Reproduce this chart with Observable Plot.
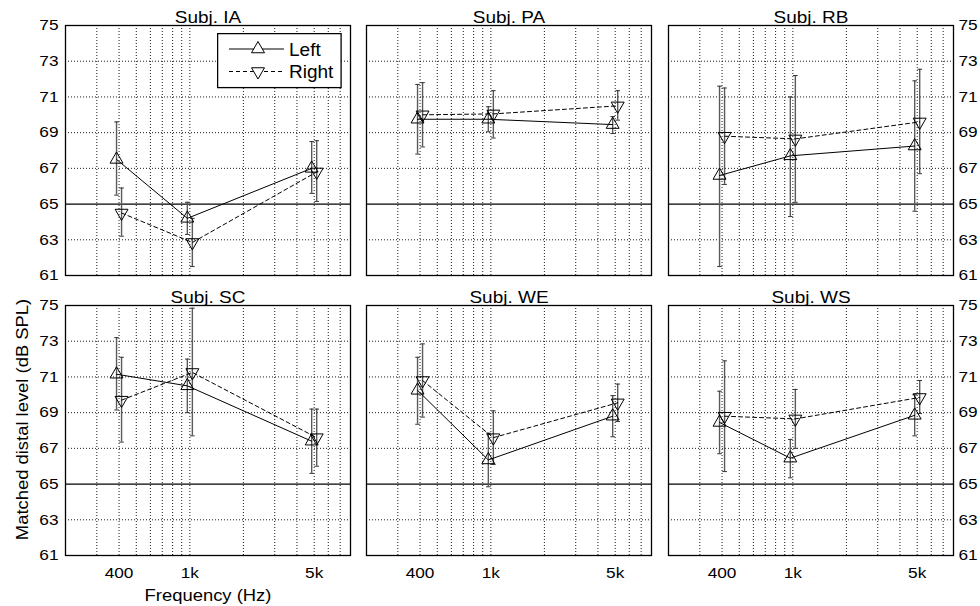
<!DOCTYPE html>
<html><head><meta charset="utf-8">
<script src="https://cdn.jsdelivr.net/npm/d3@7"></script>
<script src="https://cdn.jsdelivr.net/npm/@observablehq/plot@0.6"></script>
<style>
html,body{margin:0;padding:0;background:#fff;}
#chart{position:relative;width:980px;height:606px;overflow:hidden;background:#fff;font-family:"Liberation Sans",Arial,Helvetica,sans-serif;}
#chart > svg{position:absolute;}
</style></head><body><div id="chart"></div>
<script>
// ---- data ----
const subjects = ["IA", "PA", "RB", "SC", "WE", "WS"];
const freqs = [400, 1000, 5000];
const freqLabels = ["400", "1k", "5k"];
const yTicks = [61, 63, 65, 67, 69, 71, 73, 75];
const gridFreqs = [300, 400, 500, 600, 700, 800, 900, 1000, 2000, 3000, 4000, 5000, 6000, 7000];
const seriesNames = ["Left", "Right"];

// per subject: values at 400 Hz, 1 kHz, 5 kHz
const leftMean  = [[67.5, 64.2, 67.0], [69.75, 69.75, 69.45], [66.6, 67.7, 68.25], [71.15, 70.5, 67.4], [70.25, 66.35, 68.8], [68.45, 66.45, 68.85]];
const leftLow   = [[65.5, 63.3, 65.6], [67.8, 69.05, 68.95], [61.5, 64.3, 64.6], [69.15, 69.0, 65.6], [68.35, 64.85, 67.65], [66.7, 65.35, 67.7]];
const leftHigh  = [[69.6, 65.1, 68.5], [71.7, 70.45, 69.9], [71.6, 71.0, 71.9], [73.2, 72.0, 69.2], [72.1, 67.85, 69.95], [70.2, 67.5, 70.0]];
const rightMean = [[64.5, 62.85, 66.8], [70.0, 70.05, 70.5], [68.8, 68.65, 69.6], [69.7, 71.25, 67.6], [70.8, 67.6, 69.55], [68.8, 68.65, 69.85]];
const rightLow  = [[63.2, 61.5, 65.15], [68.2, 68.7, 69.7], [66.1, 65.1, 66.7], [67.35, 67.7, 66.0], [68.75, 66.1, 68.5], [65.7, 67.0, 68.95]];
const rightHigh = [[65.9, 64.2, 68.55], [71.8, 71.35, 71.35], [71.5, 72.2, 72.55], [72.1, 74.85, 69.2], [72.85, 69.1, 70.6], [71.9, 70.3, 70.8]];

// ---- layout ----
const colLeft = [65, 366, 668], rowTop = [25, 305];
const PW = 285, PH = 250;
const ML = 70, MR = 40, MT = 30, MB = 52;
const shift = {Left: 0.968, Right: 1.033}; // horizontal dodge of the two series (log axis)
const FONT = '"Liberation Sans", Arial, Helvetica, sans-serif';
const STRETCH = 1.15; // the reference text is drawn slightly wide

function rowsFor(i) {
  const out = [];
  freqs.forEach((f, j) => {
    out.push({side: "Left", freq: f, x: f * shift.Left, mean: leftMean[i][j], lo: leftLow[i][j], hi: leftHigh[i][j]});
    out.push({side: "Right", freq: f, x: f * shift.Right, mean: rightMean[i][j], lo: rightLow[i][j], hi: rightHigh[i][j]});
  });
  return out;
}

function stretchText(root, k) {
  root.querySelectorAll("text").forEach(t => {
    const w = t.getComputedTextLength();
    if (w > 0) {
      t.setAttribute("textLength", (w * k).toFixed(2));
      t.setAttribute("lengthAdjust", "spacingAndGlyphs");
    }
  });
}

const capSymbol = {draw(ctx) { ctx.moveTo(-2.3, 0); ctx.lineTo(2.3, 0); }};
const chart = document.getElementById("chart");

subjects.forEach((s, i) => {
  const col = i % 3, row = Math.floor(i / 3);
  const data = rowsFor(i);
  const L = data.filter(d => d.side === "Left");
  const R = data.filter(d => d.side === "Right");
  const marks = [
    Plot.gridX(gridFreqs, {stroke: "black", strokeOpacity: 1, strokeWidth: 0.9, strokeDasharray: "1,2"}),
    Plot.gridY([63, 67, 69, 71, 73], {stroke: "black", strokeOpacity: 1, strokeWidth: 0.9, strokeDasharray: "1,2"}),
    Plot.ruleY([65], {stroke: "black", strokeWidth: 1.2}),
    Plot.ruleX(data, {x: "x", y1: "lo", y2: "hi", stroke: "#5a5a5a", strokeWidth: 1.4}),
    Plot.dot(data, {x: "x", y: "lo", symbol: capSymbol, r: 3, fill: "none", stroke: "#333", strokeWidth: 1}),
    Plot.dot(data, {x: "x", y: "hi", symbol: capSymbol, r: 3, fill: "none", stroke: "#333", strokeWidth: 1}),
    Plot.line(L, {x: "x", y: "mean", stroke: "black", strokeWidth: 1}),
    Plot.line(R, {x: "x", y: "mean", stroke: "black", strokeWidth: 1, strokeDasharray: "4,3"}),
    Plot.dot(L, {x: "x", y: "mean", symbol: "triangle", r: 4.8, fill: "none", stroke: "black", strokeWidth: 1}),
    Plot.dot(R, {x: "x", y: "mean", symbol: "triangle", rotate: 180, r: 4.8, fill: "none", stroke: "black", strokeWidth: 1}),
    Plot.frame({stroke: "black", strokeWidth: 1.3}),
    Plot.text(["Subj. " + s], {text: d => d, frameAnchor: "top", lineAnchor: "middle", textAnchor: "middle", dy: -7.5, fontSize: 16.5})
  ];
  if (i === 3) {
    marks.push(Plot.text(["Matched distal level (dB SPL)"], {text: d => d, frameAnchor: "left", textAnchor: "middle", lineAnchor: "middle", dx: -43, dy: -11, rotate: -90, fontSize: 16}));
    marks.push(Plot.text(["Frequency (Hz)"], {text: d => d, frameAnchor: "bottom", textAnchor: "middle", lineAnchor: "middle", dy: 40, fontSize: 16}));
  }
  const svg = Plot.plot({
    width: PW + ML + MR,
    height: PH + MT + MB,
    marginLeft: ML, marginRight: MR, marginTop: MT, marginBottom: MB,
    style: {background: "transparent", overflow: "visible", fontSize: "15px", fontFamily: FONT, color: "black"},
    x: {type: "log", domain: [200, 8000], axis: row === 1 ? "bottom" : null, ticks: freqs,
        tickFormat: d => freqLabels[freqs.indexOf(d)], tickSize: 0, tickPadding: 12, label: null},
    y: {domain: [61, 75], axis: col === 0 ? "left" : col === 2 ? "right" : null, ticks: yTicks,
        tickSize: 0, tickPadding: col === 0 ? 7 : 5, label: null},
    marks
  });
  svg.style.left = (colLeft[col] - ML) + "px";
  svg.style.top = (rowTop[row] - MT) + "px";
  chart.appendChild(svg);
  stretchText(svg, STRETCH);
});

// legend (inside panel "Subj. IA")
const ns = "http://www.w3.org/2000/svg";
const leg = document.createElementNS(ns, "svg");
leg.setAttribute("width", 126); leg.setAttribute("height", 56);
leg.style.left = "217px"; leg.style.top = "33px";
leg.innerHTML = `
  <rect x="0.6" y="0.6" width="123.5" height="54" fill="white" stroke="black" stroke-width="1.3"/>
  <line x1="12" x2="67" y1="16" y2="16" stroke="black" stroke-width="1"/>
  <path d="M41,8.5L34.5,19.75L47.5,19.75Z" fill="white" stroke="black"/>
  <line x1="12" x2="67" y1="38.5" y2="38.5" stroke="black" stroke-width="1" stroke-dasharray="4,3"/>
  <path d="M41,46L34.5,34.75L47.5,34.75Z" fill="white" stroke="black"/>
  <text x="72" y="22.5" font-size="19" font-family='${FONT}'>${seriesNames[0]}</text>
  <text x="72" y="45" font-size="19" font-family='${FONT}'>${seriesNames[1]}</text>`;
chart.appendChild(leg);
</script>
</body></html>
